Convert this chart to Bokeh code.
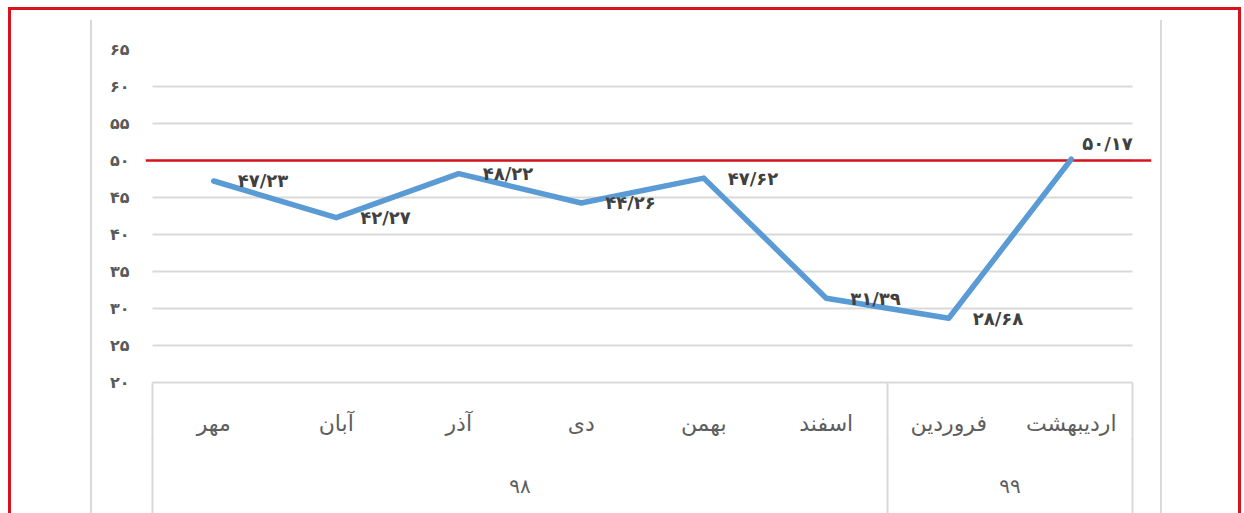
from bokeh.plotting import figure
from bokeh.models import Range1d, FixedTicker, LinearAxis, Span, ColumnDataSource
from bokeh.embed import file_html
from bokeh.resources import INLINE
from bokeh.core.properties import value

# ---- data ----
months = ["مهر", "آبان", "آذر", "دی", "بهمن", "اسفند", "فروردین", "اردیبهشت"]
years = ["۹۸", "۹۹"]
months_per_year = [6, 2]
values = [47.23, 42.27, 48.22, 44.26, 47.62, 31.39, 28.68, 50.17]
threshold = 50
y_ticks = [20, 25, 30, 35, 40, 45, 50, 55, 60, 65]

# label offsets (style, pixels)
label_dx = [24, 24, 24, 24, 24, 24, 24, 11]
label_dy = [0, 0, 0, 0, 0, 0, 0, -16]

FA = str.maketrans("0123456789", "۰۱۲۳۴۵۶۷۸۹")

def fa_num(v):
    return f"{v:.2f}".replace(".", "/").translate(FA)

# positions: each month is 2 units wide, centre at 2i+1
xs = [2 * i + 1 for i in range(len(months))]
bounds = [0]
for n in months_per_year:
    bounds.append(bounds[-1] + 2 * n)
year_centers = [(bounds[i] + bounds[i + 1]) // 2 for i in range(len(years))]
x_end = bounds[-1]

FONT = "DejaVu Sans"
GRID = "#d9d9d9"
TXT = "#595959"
RED = "#d7141c"

W, H = 1244, 513
px = 980 / x_end

def bar(color, x, y, w, h):
    return f"linear-gradient({color},{color}) {x}px {y}px / {w}px {h}px no-repeat"

page_bg = ", ".join([
    bar(RED, 8, 7, 1231, 3),     # red frame top
    bar(RED, 8, 7, 3, 600),      # red frame left
    bar(RED, 1238, 7, 3, 600),   # red frame right
    bar(GRID, 90, 20, 2, 600),   # grey side rule left
    bar(GRID, 1160, 20, 2, 600), # grey side rule right
    "white",
])

p = figure(width=W, height=H,
           x_range=Range1d(-7 / px, x_end + 19 / px),
           y_range=Range1d(y_ticks[0], y_ticks[-1]),
           x_axis_type=None,
           output_backend="svg", toolbar_location=None,
           min_border_left=145, min_border_right=93,
           min_border_top=49, min_border_bottom=131,
           styles={"background": page_bg})
p.outline_line_color = None
p.background_fill_color = None
p.border_fill_color = None

# y axis
yax = p.yaxis[0]
yax.ticker = FixedTicker(ticks=y_ticks)
yax.major_label_overrides = {t: str(t).translate(FA) for t in y_ticks}
yax.axis_line_color = None
yax.major_tick_line_color = None
yax.minor_tick_line_color = None
yax.major_tick_out = 0
yax.minor_tick_out = 0
yax.major_label_standoff = 16
yax.major_label_text_font = FONT
yax.major_label_text_font_size = "16px"
yax.major_label_text_font_style = "bold"
yax.major_label_text_color = TXT

g = p.ygrid[0]
g.ticker = FixedTicker(ticks=y_ticks)
g.grid_line_color = GRID
g.grid_line_width = 2
g.cross_bounds = (0, x_end)

# category axes (months / years); minor ticks draw the group box edges
ax1 = LinearAxis(ticker=FixedTicker(ticks=xs, minor_ticks=bounds),
                 major_label_overrides={x: m for x, m in zip(xs, months)},
                 bounds=(0, x_end),
                 axis_line_color=GRID, axis_line_width=2,
                 major_tick_line_color=None, major_tick_in=0, major_tick_out=0,
                 minor_tick_line_color=GRID, minor_tick_line_width=2,
                 minor_tick_in=0, minor_tick_out=58,
                 major_label_standoff=-30,
                 major_label_text_font=FONT, major_label_text_font_size="22px",
                 major_label_text_color="#5e5e5e")
ax2 = LinearAxis(ticker=FixedTicker(ticks=year_centers, minor_ticks=bounds),
                 major_label_overrides={x: y for x, y in zip(year_centers, years)},
                 bounds=(0, x_end),
                 axis_line_color=None,
                 major_tick_line_color=None, major_tick_in=0, major_tick_out=0,
                 minor_tick_line_color=GRID, minor_tick_line_width=2,
                 minor_tick_in=0, minor_tick_out=75,
                 major_label_standoff=-40,
                 major_label_text_font=FONT, major_label_text_font_size="20px",
                 major_label_text_color="#5e5e5e")
p.add_layout(ax1, "below")
p.add_layout(ax2, "below")

# threshold line
p.add_layout(Span(location=threshold, dimension="width", line_color=RED,
                  line_width=2.5, level="underlay"))

# series
src = ColumnDataSource(dict(x=xs, y=values, label=[fa_num(v) for v in values],
                            dx=label_dx, dy=label_dy))
p.line("x", "y", source=src, line_color="#5B9BD5", line_width=5.5,
       line_cap="round", line_join="round")
p.text("x", "y", text="label", source=src, x_offset="dx", y_offset="dy",
       text_align="left", text_baseline="middle",
       text_font=value(FONT), text_font_size="18px", text_font_style="bold",
       text_color="#404040")

open("out.html", "w").write(file_html(p, INLINE))
